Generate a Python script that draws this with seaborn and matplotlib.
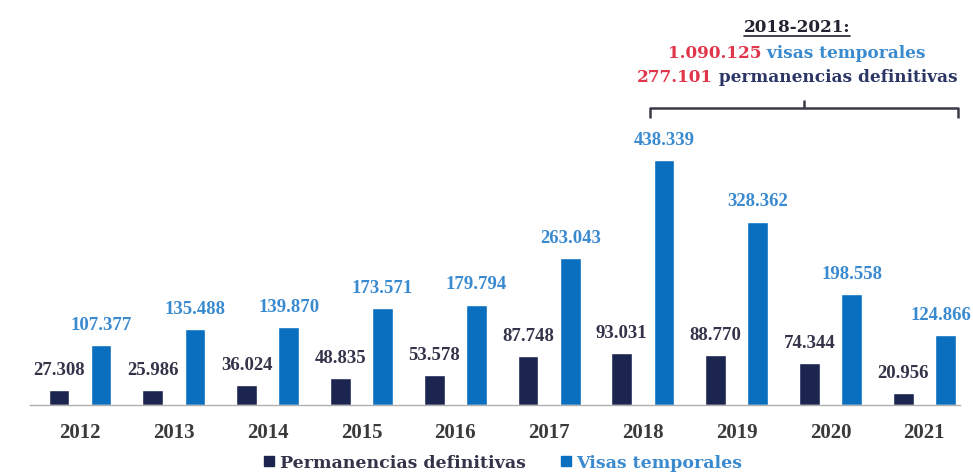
import matplotlib
matplotlib.use("Agg")
import matplotlib.pyplot as plt
import matplotlib.transforms as mtransforms
from matplotlib.lines import Line2D
import seaborn as sns
import pandas as pd

years = ["2012", "2013", "2014", "2015", "2016", "2017", "2018", "2019", "2020", "2021"]
permanencias = [27308, 25986, 36024, 48835, 53578, 87748, 93031, 88770, 74344, 20956]
visas = [107377, 135488, 139870, 173571, 179794, 263043, 438339, 328362, 198558, 124866]
series_names = ["Permanencias definitivas", "Visas temporales"]
summary_title = "2018-2021:"
summary_visas = ["1.090.125", " visas temporales"]
summary_perm = ["277.101", " permanencias definitivas"]

DARK = "#1b2550"
BLUE = "#0b6fbf"
DARK_TXT = "#33344a"
BLUE_TXT = "#3a8ad0"
RED_TXT = "#e0354a"
NAVY_TXT = "#2b3566"
SERIF = "Liberation Serif"
WIDE_SERIF = "DejaVu Serif"

sns.set_theme(style="white")
plt.rcParams["font.family"] = [SERIF, "DejaVu Serif"]
plt.rcParams["font.weight"] = "bold"

df = pd.DataFrame({
    "year": years * 2,
    "value": permanencias + visas,
    "serie": [series_names[0]] * len(years) + [series_names[1]] * len(years),
})

fig = plt.figure(figsize=(9.73, 4.76), dpi=100)
W, H = 973, 476
ax = fig.add_axes([30 / W, (H - 405) / H, (960 - 30) / W, (405 - 120) / H])

sns.barplot(data=df, x="year", y="value", hue="serie", order=years,
            hue_order=series_names, palette=[DARK, BLUE], width=0.9, gap=0.51,
            saturation=1, legend=False, ax=ax)

ax.set_xlim(-0.533, 9.38)
ax.set_ylim(0, 510000)
ax.set_xlabel("")
ax.set_ylabel("")
ax.set_yticks([])
for s in ["top", "right", "left"]:
    ax.spines[s].set_visible(False)
ax.spines["bottom"].set_color("#b0b0b0")
ax.spines["bottom"].set_linewidth(1.0)
ax.tick_params(axis="x", length=0, pad=13, labelsize=15, labelcolor="#3a3a3a")
for t in ax.get_xticklabels():
    t.set_fontweight("bold")

LABEL_PAD = 8
fmt = lambda v: f"{v:,.0f}".replace(",", ".")
value_labels = []
for cont, col in zip(ax.containers, [DARK_TXT, BLUE_TXT]):
    value_labels += ax.bar_label(cont, labels=[fmt(b.get_height()) for b in cont],
                                 padding=LABEL_PAD, fontsize=13.5, fontweight="bold", color=col)

# legend with small square markers
handles = [Line2D([], [], marker="s", linestyle="", markersize=7, color=c) for c in [DARK, BLUE]]
fig.legend(handles, series_names, loc="center", bbox_to_anchor=(503 / W, 1 - 463 / H),
           ncol=2, frameon=False, handlelength=0.6, handletextpad=0.3, columnspacing=2.0,
           prop={"family": WIDE_SERIF, "weight": "bold", "size": 12.5},
           labelcolor=[DARK_TXT, BLUE_TXT])

fig.canvas.draw()
renderer = fig.canvas.get_renderer()

# keep value labels inside the canvas
for t in value_labels:
    bb = t.get_window_extent(renderer)
    if bb.x1 > W - 2:
        shift_pts = (W - 2 - bb.x1) * 72 / fig.dpi
        t.xyann = (shift_pts, LABEL_PAD)

# summary block for 2018-2021
cx = 797 / W
SUM_SIZE = 12.2

def centered_line(pieces, colors, y):
    texts = [fig.text(0, y, p, color=c, fontsize=SUM_SIZE, fontweight="bold", family=WIDE_SERIF,
                      va="center", ha="left")
             for p, c in zip(pieces, colors)]
    widths = [t.get_window_extent(renderer).width / W for t in texts]
    x = cx - sum(widths) / 2
    for t, w in zip(texts, widths):
        t.set_x(x)
        x += w

title = fig.text(cx, 1 - 28 / H, summary_title, color="#222230", fontsize=SUM_SIZE,
                 fontweight="bold", family=WIDE_SERIF, ha="center", va="center")
bb = title.get_window_extent(renderer)
fig.add_artist(Line2D([bb.x0 / W, bb.x1 / W], [(bb.y0 + 1) / H] * 2, color="#222230", lw=1.2))

centered_line(summary_visas, [RED_TXT, BLUE_TXT], 1 - 53 / H)
centered_line(summary_perm, [RED_TXT, NAVY_TXT], 1 - 77 / H)

# bracket over 2018-2021
tr = mtransforms.blended_transform_factory(ax.transData, fig.transFigure)
bx0, bx1, bmid = 6.08, 9.36, 7.72
yb, yend, ytop = 1 - 108 / H, 1 - 118 / H, 1 - 100 / H
kw = dict(transform=tr, color="#3a3a48", lw=1.8, clip_on=False, solid_capstyle="butt")
fig.add_artist(Line2D([bx0, bx0, bx1, bx1], [yend, yb, yb, yend], **kw))
fig.add_artist(Line2D([bmid, bmid], [yb, ytop], **kw))

fig.savefig("out.png", dpi=100, facecolor="white")
